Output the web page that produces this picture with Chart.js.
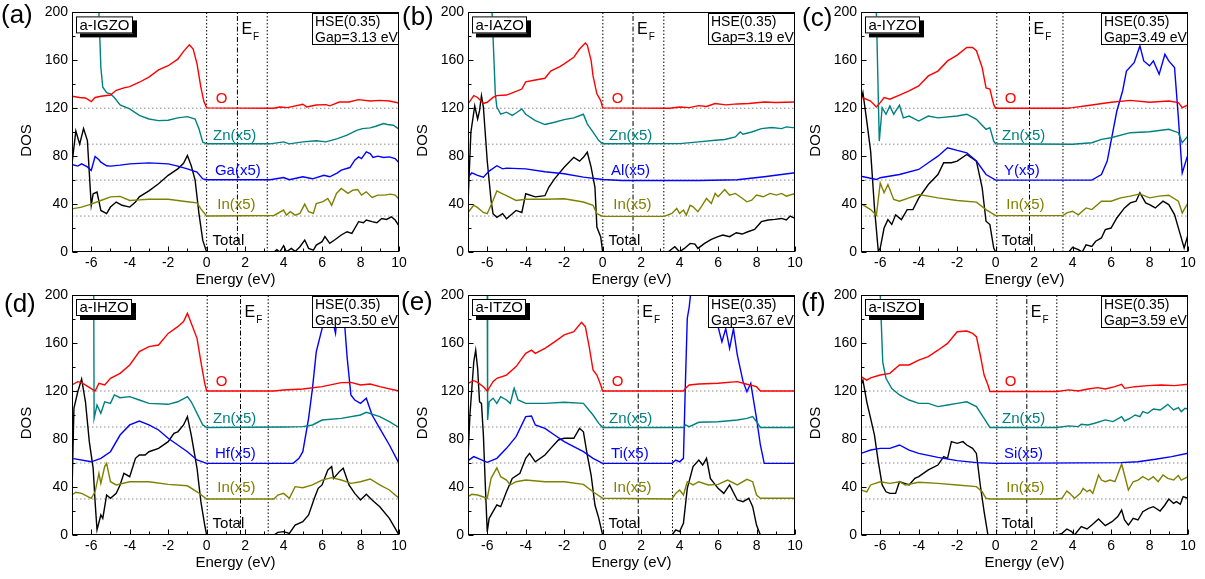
<!DOCTYPE html>
<html><head><meta charset="utf-8">
<script src="https://cdn.jsdelivr.net/npm/chart.js@4.4.1/dist/chart.umd.min.js"></script>
<style>
html,body{margin:0;padding:0;background:#fff;}
#wrap{position:relative;width:1205px;height:579px;overflow:hidden;background:#fff;}
canvas{position:absolute;left:0;top:0;}
</style></head><body><div id="wrap"></div>
<script>
// ---------------- DATA ----------------
const xTicks = [-6,-4,-2,0,2,4,6,8,10];
const yTicks = [0,40,80,120,160,200];
const baselineLevels = [30,60,90,120];
const panelTags = ['(a)','(b)','(c)','(d)','(e)','(f)'];
const sampleNames = ['a-IGZO','a-IAZO','a-IYZO','a-IHZO','a-ITZO','a-ISZO'];
const hseText = 'HSE(0.35)';
const gapTexts = ['Gap=3.13 eV','Gap=3.19 eV','Gap=3.49 eV','Gap=3.50 eV','Gap=3.67 eV','Gap=3.59 eV'];
const dopantLabels = ['Ga(x5)','Al(x5)','Y(x5)','Hf(x5)','Ti(x5)','Si(x5)'];
const vbmLines = [0,0.01,0.06,0.03,0.03,0.06];
const efLines = [1.6,1.58,1.76,1.76,1.85,1.62];
const cbmLines = [3.15,3.18,3.5,3.2,3.63,3.18];
const labelE = [0.47,0.33,0.43,0.55,0.31];
const labelDOS = [128,97,67.5,39,9.7];

// panel (a) a-IGZO
const a_O = [[-7,130],[-6.6,129],[-6.3,128.6],[-6,125.5],[-5.8,129],[-5.5,130],[-5,131],[-4.7,135],[-4.3,137],[-4,138],[-3.5,141.7],[-3,146],[-2.5,152],[-2,155.5],[-1.5,161],[-1.2,167.5],[-0.9,173],[-0.7,169.4],[-0.5,157],[-0.3,137.5],[-0.15,126],[0,120.3],[3.5,120],[3.8,121],[4.2,120.5],[5,123.3],[5.2,121.1],[5.7,122.7],[6.2,123],[6.4,122],[6.9,125.2],[7.4,125.2],[7.9,127.2],[8.5,126.1],[9,126.6],[9.5,126],[10,124.4]];
const a_Zn = [[-7,260],[-5.65,260],[-5.6,200],[-5.5,154],[-5.4,137.5],[-5.2,133],[-5,132],[-4.8,129],[-4.5,122.8],[-4,119.4],[-3.5,114],[-3,111],[-2.5,109.7],[-2,110],[-1.5,112],[-1,113],[-0.6,111],[-0.4,102.8],[-0.2,91.7],[0,90.3],[3.3,90.3],[4,91.9],[4.3,90.3],[5,91.9],[5.7,92.8],[6.2,91.9],[6.8,94.7],[7.3,97.5],[7.8,101.6],[8.1,103],[8.5,103.6],[8.8,105],[9.2,107.2],[9.4,106.4],[9.7,105.8],[10,102.5]];
const a_Ga = [[-7,73],[-6.7,71.7],[-6.5,73.6],[-6.2,71],[-6,68],[-5.8,79.7],[-5.6,77],[-5.5,75],[-5.2,72],[-5,71.7],[-4.5,72.5],[-4,73.6],[-3.5,74],[-3,74.4],[-2.5,74],[-2,73.6],[-1.5,71.7],[-1,69.4],[-0.5,66.7],[-0.2,61],[0,60.3],[3.3,60.3],[4,62.2],[4.3,60.3],[5,62.8],[5.5,61.1],[6.1,64.1],[6.4,62.8],[6.8,66.1],[7,68.3],[7.45,70.5],[7.7,76.6],[7.9,79.4],[8.05,78],[8.3,83.6],[8.5,82.2],[8.65,78.9],[8.9,80],[9.2,78.9],[9.5,79.4],[9.8,78],[10,74.5]];
const a_In = [[-7,36],[-6.5,37.5],[-6,40],[-5.5,43],[-5,46],[-4.5,46.4],[-4,43],[-3.5,43.5],[-3,44],[-2,44],[-1,42],[-0.5,41],[-0.3,36],[0,30],[3.5,30.5],[4,35],[4.15,30.8],[4.35,33.6],[4.6,30.8],[4.85,32.2],[5.1,40],[5.3,33.6],[5.55,32.2],[5.7,40.5],[6.05,42],[6.3,44.7],[6.5,39],[6.75,48.9],[7,53],[7.35,48.9],[7.6,51.6],[7.85,52.2],[8.05,47.5],[8.3,50.2],[8.6,45.5],[8.9,47.5],[9.25,47.5],[9.55,48.3],[9.8,47.5],[10,44]];
const a_Total = [[-7,73.6],[-6.8,101],[-6.6,90],[-6.4,103],[-6.2,93],[-6,39],[-5.9,48.6],[-5.7,50],[-5.5,34.7],[-5.2,32],[-5,37.5],[-4.7,41.7],[-4.4,39],[-4,37.5],[-3.7,41.7],[-3.5,46],[-3,51],[-2.5,57],[-2,64],[-1.5,69.4],[-1.2,74],[-1,80.6],[-0.8,72],[-0.6,60],[-0.4,32],[-0.2,9.7],[0,0],[3.5,0],[3.65,2],[3.8,0],[4,5.3],[4.15,0.2],[4.4,3],[4.6,0.5],[4.85,4.4],[5.1,10],[5.3,3],[5.55,1.6],[5.7,5.8],[6,8.6],[6.15,12.8],[6.4,7.2],[6.65,10],[7,14.2],[7.3,16.9],[7.55,15.5],[7.9,25.3],[8.15,24.4],[8.3,26.7],[8.6,25.3],[8.85,24.4],[9.1,28],[9.35,27.2],[9.6,29.4],[9.8,26.7],[10,21.9]];

// panel (b) a-IAZO
const b_O = [[-7,123.6],[-6.7,130.5],[-6.5,129],[-6.2,124],[-6,125],[-5.7,129],[-5.5,130.5],[-5,131],[-4.5,134],[-4.2,136],[-4,142],[-3.5,143.6],[-3,145],[-2.7,151],[-2.2,155],[-2,157],[-1.5,162.5],[-1.2,169.4],[-0.9,174.4],[-0.8,172.8],[-0.6,160],[-0.5,147],[-0.3,132],[-0.1,126.4],[0,120.3],[3.5,120],[4,121],[4.5,120.5],[5,122.2],[5.4,121.5],[5.85,123.9],[6.4,122.8],[7,123.6],[7.6,123.9],[8.4,125.2],[9,124.8],[10,125.2]];
const b_Zn = [[-7,260],[-5.8,260],[-5.75,200],[-5.58,132],[-5.5,121],[-5.3,115],[-5,116.7],[-4.7,114],[-4.5,116],[-4.2,119.4],[-4,115],[-3.5,109.7],[-3,106.4],[-2.5,108.3],[-2,110.5],[-1.5,112],[-1,115],[-0.8,107],[-0.5,100],[-0.2,93],[0,90.3],[4,90.5],[5,91.9],[5.85,93.3],[6.35,93.9],[6.9,96.1],[7.15,100.2],[7.3,98.3],[7.75,100.2],[8.25,103],[8.8,103.9],[9.3,103],[9.55,104.4],[10,103.6]];
const b_Al = [[-7,62.5],[-6.8,66],[-6.5,64],[-6.2,62.5],[-5.9,67.5],[-5.5,72],[-5.2,69.4],[-5,70],[-4,69.4],[-3,67],[-2,65.3],[-1,62.5],[0,60.5],[1,59.7],[5,59.7],[7,60.3],[8.4,62.8],[10,66.1]];
const b_In = [[-7,33],[-6.7,39],[-6.5,37],[-6.2,33],[-6,32],[-5.7,43],[-5.5,51],[-5.2,48.6],[-5,47],[-4.5,43],[-4,44],[-3,44],[-2,44.4],[-1,41.7],[-0.5,39],[-0.3,32],[0,29.7],[3.2,29.7],[3.6,32.2],[3.85,36.4],[4,32.2],[4.2,35],[4.35,30.8],[4.55,39],[4.7,37.7],[4.95,33.6],[5.15,38.3],[5.4,44.7],[5.65,40.5],[5.85,48.9],[6,46.1],[6.35,52.2],[6.6,47.5],[6.9,48.9],[7.15,46.1],[7.5,41.9],[7.75,43.3],[8,47.5],[8.35,46.1],[8.7,48.9],[9.05,47.5],[9.3,48.9],[9.55,46.6],[10,48.9]];
const b_Total = [[-7,40],[-6.85,100],[-6.65,122],[-6.5,111],[-6.4,118],[-6.3,130.5],[-6.2,121],[-6,76],[-5.8,43],[-5.7,32],[-5.5,29],[-5.2,32],[-5,27.8],[-4.5,34.7],[-4.2,33],[-4,48.6],[-3.5,46],[-3,47],[-2.8,54],[-2.5,61],[-2,70.8],[-1.5,79],[-1.2,75.8],[-1,79],[-0.8,83.3],[-0.6,70.8],[-0.4,54],[-0.3,20.8],[-0.1,12.5],[0,0],[3.4,0],[3.75,4.4],[4,0.2],[4.25,3],[4.55,7.2],[4.8,6.6],[4.95,3],[5.3,7.2],[5.65,10.5],[6,12.8],[6.25,14.2],[6.6,12.8],[6.95,16.1],[7.25,15],[7.55,16.9],[7.9,18.9],[8.25,25.3],[8.6,26.7],[8.95,27.2],[9.3,28],[9.55,26.7],[9.75,30],[10,28]];

// panel (c) a-IYZO
const c_O = [[-7,129.4],[-6.5,126],[-6.2,121],[-6,124.7],[-5.8,129],[-5.5,127.5],[-5,131],[-4.5,134.4],[-4,138.6],[-3.5,147],[-3,151],[-2.5,159.5],[-2,164.3],[-1.5,170.7],[-1.2,170.7],[-1,168],[-0.7,154],[-0.5,137],[-0.3,136],[-0.1,123],[0,120],[3.7,120],[4,120.5],[5,122.7],[6,125],[7,126.6],[8,125],[9,126],[9.5,124.7],[9.7,120.5],[10,122.7]];
const c_Zn = [[-7,260],[-6.25,260],[-6.2,200],[-6.05,92.6],[-5.9,120.5],[-5.7,115],[-5.5,121.9],[-5.3,115],[-5,122.5],[-4.8,112],[-4.5,113.5],[-4,109.3],[-3.5,113.5],[-3,112],[-2,113.5],[-1.5,115],[-1,110.7],[-0.5,102.4],[-0.3,103.8],[-0.1,92.6],[0,90.4],[4,90],[5,91.2],[5.5,94],[6,95.4],[7,99.6],[8,100.4],[9,102.4],[9.5,99.6],[9.7,91.2],[10,96.8]];
const c_Y = [[-7,63.3],[-6.2,60.5],[-6,62],[-5,64.7],[-4,68.9],[-3.5,74.5],[-3,80],[-2.5,87],[-2,84.8],[-1.5,82.8],[-1,75.9],[-0.5,64.7],[0,60],[5,60],[5.5,64.7],[5.8,75.9],[6,92.6],[6.3,117.7],[6.6,134.4],[6.8,151],[7.2,158],[7.5,172],[7.7,159.5],[8,155.4],[8.2,159.5],[8.5,148.4],[8.8,165],[9,159.5],[9.3,154],[9.5,112],[9.7,66],[10,81.4]];
const c_In = [[-7,40.4],[-6.5,35.4],[-6.2,30.7],[-6,57.7],[-5.8,49.4],[-5.6,56.3],[-5.3,43.8],[-5,42.4],[-4.5,45.2],[-4,48],[-3.5,46.6],[-3,45.2],[-2,43],[-1,41.6],[-0.5,35.4],[0,30.4],[3.5,30.4],[3.7,32.6],[4,34],[4.3,31],[4.7,36.8],[5,35.4],[5.5,42.4],[6,42.4],[6.5,45.2],[7,46.6],[7.5,48.5],[8,45.2],[8.5,46.6],[9,47.4],[9.5,42.4],[9.7,32.6],[10,41]];
const c_Total = [[-7,126],[-6.9,133],[-6.7,109.3],[-6.5,84.2],[-6.3,36.8],[-6.1,0.6],[-6,3.3],[-5.8,20],[-5.6,27],[-5.4,23],[-5.2,31],[-4.9,27],[-4.6,35.4],[-4.3,35.4],[-4,45],[-3.5,56.3],[-3,64.7],[-2.7,74.5],[-2.3,74.5],[-2,75.9],[-1.5,81.4],[-1,75.9],[-0.7,53.6],[-0.5,25.7],[-0.3,22.9],[-0.1,3.3],[0,0],[3.8,0],[4,3.9],[4.3,2],[4.5,0],[4.7,6],[5,4.7],[5.2,9],[5.5,11.7],[5.7,18.7],[6,20],[6.3,28.4],[6.7,36.8],[7,41],[7.3,42.4],[7.5,49.4],[7.8,41],[8,39.6],[8.3,36.8],[8.7,42.4],[9,39.6],[9.3,31.2],[9.6,14.5],[9.8,3.3],[10,14.5]];

// panel (d) a-IHZO
const d_O = [[-7,125],[-6.7,127.8],[-6.5,127],[-6,122],[-5.8,120],[-5.6,126.4],[-5.3,125],[-5,130.6],[-4.5,134.7],[-4,141.7],[-3.5,152.8],[-3,157],[-2.5,158.3],[-2,168],[-1.5,173.6],[-1.2,177.8],[-1,184.7],[-0.8,176.4],[-0.5,163.9],[-0.3,144.4],[-0.1,126.4],[0,120],[3.5,120],[4,120.8],[5,121.7],[6,123.6],[7,127],[7.5,127.2],[8,125],[8.5,125.8],[9,123.6],[10,120]];
const d_Zn = [[-7,260],[-5.9,260],[-5.87,200],[-5.85,97.2],[-5.7,108.3],[-5.5,101.4],[-5.3,111],[-5,109.7],[-4.8,116.7],[-4.5,114.4],[-4,115.3],[-3.5,112.5],[-3,109.7],[-2,108.9],[-1.5,111],[-1,115.3],[-0.8,111],[-0.5,101.4],[-0.2,91.7],[0,89.6],[4,90],[5,90.3],[5.5,91.7],[6,95.8],[7,97.2],[8,100],[8.3,102.2],[9,98.6],[9.5,94.4],[10,89.6]];
const d_Hf = [[-7,63.9],[-6,61],[-5.5,63.9],[-5,69.4],[-4.5,83.3],[-4,91.7],[-3.5,95],[-3,91.7],[-2.5,87.5],[-2,80.6],[-1.5,75],[-1,69.4],[-0.5,62.5],[0,59.7],[4.5,59.7],[4.8,63.9],[5,69.4],[5.3,97.2],[5.5,122],[5.7,152.8],[6,172],[6.2,195],[6.4,215],[6.6,175],[6.7,168],[6.8,185],[7,215],[7.2,170],[7.3,148.6],[7.5,116.7],[7.7,112.5],[8,109.7],[8.3,113.9],[8.6,100],[9,88.9],[9.5,75],[10,59.7]];
const d_In = [[-7,33.3],[-6.8,35.6],[-6.5,34.7],[-6,30.6],[-5.8,36],[-5.6,51.4],[-5.5,43],[-5.3,57],[-5.2,59.7],[-5,44.4],[-4.7,41.7],[-4,44.4],[-3,44.4],[-2,42.2],[-1,41],[-0.5,36],[0,30],[3.5,30],[3.7,33.3],[4,34.7],[4.3,30.6],[4.6,40.3],[5,39.4],[5.5,41.7],[6,45.8],[6.5,47.8],[7,45.8],[7.5,43],[8,44.4],[8.5,46.7],[9,41.7],[9.5,37.5],[10,30.6]];
const d_Total = [[-7,36],[-6.9,105.6],[-6.7,119.4],[-6.5,130],[-6.3,111],[-6.1,77.8],[-5.9,55.6],[-5.8,27.8],[-5.7,4.2],[-5.5,16.7],[-5.4,13.9],[-5.2,33.3],[-5,30.6],[-4.7,34.7],[-4.5,41.7],[-4.3,51.4],[-4,48.6],[-3.7,63.9],[-3.5,66.7],[-3.2,66.7],[-3,69.4],[-2.5,72.2],[-2,77.8],[-1.7,84.7],[-1.5,86],[-1.2,91.7],[-1,98.6],[-0.8,83.3],[-0.5,55.6],[-0.3,27.8],[-0.1,8.3],[0,0],[3.5,0],[3.7,2.2],[4,2.8],[4.3,1.4],[4.6,8.3],[5,11.1],[5.3,16.7],[5.6,30.6],[5.8,38.9],[6,41.7],[6.3,54.2],[6.5,57],[6.6,47.2],[6.9,52.8],[7.1,55.6],[7.4,41.7],[7.7,34.7],[8,29.2],[8.3,33.9],[8.6,29.2],[9,23.6],[9.5,13.9],[10,0]];

// panel (e) a-ITZO
const e_O = [[-7,126.4],[-6.7,128.6],[-6.5,127.2],[-6.2,123.6],[-6,120],[-5.7,127.8],[-5.5,130.6],[-5,133.3],[-4.5,140.3],[-4,151.4],[-3.7,154],[-3.5,151.4],[-3,155.6],[-2.5,161],[-2,166.7],[-1.5,169.4],[-1.1,177.2],[-0.9,173.6],[-0.7,157],[-0.5,137.5],[-0.3,133.3],[-0.1,125],[0,120],[4.2,120],[4.3,122.2],[4.5,125],[5,125.8],[6,126.4],[7,127.8],[7.5,125.6],[8,123.6],[8.2,120],[10,120]];
const e_Zn = [[-7,260],[-6.05,260],[-6,200],[-5.98,95.8],[-5.9,111],[-5.7,114],[-5.5,109.7],[-5.3,115.3],[-5,112.5],[-4.8,109.7],[-4.6,122.2],[-4.4,112.5],[-4,109.7],[-3,109.7],[-2,110.6],[-1,109.7],[-0.5,100],[-0.2,93],[0,89.6],[4.2,89.6],[4.3,91.7],[4.5,90.3],[5,93.9],[6,94.4],[7,95.8],[7.5,97.2],[7.8,98.6],[8,94.4],[8.2,89.6],[10,89.6]];
const e_Ti = [[-7,62],[-6.7,65.3],[-6,60.6],[-5.5,63.9],[-5,72.2],[-4.5,82],[-4,98.6],[-3.7,99.2],[-3.5,91.7],[-3,88.9],[-2.5,83.3],[-2,77.8],[-1.5,73.6],[-1,69.4],[-0.5,63.9],[0,59.7],[3.6,59.7],[3.8,62.5],[4,61],[4.2,63.9],[4.3,125],[4.4,180.6],[4.5,190],[4.6,205],[5,240],[5.5,240],[5.8,205],[5.9,175],[6,173.6],[6.2,161],[6.4,172],[6.6,155.6],[6.8,172],[7,150],[7.3,127.8],[7.5,119.4],[7.7,126.4],[8,97.2],[8.2,75],[8.4,59.7],[10,59.7]];
const e_In = [[-7,32],[-6.8,33.9],[-6.5,33.3],[-6,30.6],[-5.8,47.2],[-5.5,56],[-5.3,48.6],[-5,45.8],[-4.8,41.7],[-4.5,44.4],[-4,45.8],[-3,44.4],[-2,44.4],[-1,42.2],[-0.5,36],[0,30.6],[3.6,30],[3.8,34.7],[4,37.5],[4.2,33.3],[4.4,44.4],[4.7,41.7],[5,44.4],[5.5,41.7],[6,42.2],[6.5,45.8],[7,41.7],[7.5,46.4],[7.8,44.4],[8,33.3],[8.2,30.6],[10,30.6]];
const e_Total = [[-7,63.9],[-6.9,100],[-6.7,144.4],[-6.6,154],[-6.5,138.9],[-6.4,111],[-6.3,109.7],[-6.2,83.3],[-6.1,41.7],[-6,2.8],[-5.9,13.9],[-5.7,19.4],[-5.5,25],[-5.3,23.6],[-5,36],[-4.7,47.2],[-4.3,51.4],[-4,63.9],[-3.8,68],[-3.5,61],[-3,66.7],[-2.7,72.2],[-2.3,79.2],[-2,80.6],[-1.5,80.6],[-1.2,88.9],[-1,86],[-0.8,66.7],[-0.6,50],[-0.4,25],[-0.2,13.9],[0,0],[3.6,0],[3.8,4.2],[4,2.8],[4.2,9.7],[4.4,38.9],[4.7,57],[5,62.5],[5.2,58.3],[5.4,63.9],[5.6,47.2],[6,38.9],[6.3,34.7],[6.6,41.7],[7,29.2],[7.3,27.8],[7.6,30.6],[7.8,23.6],[8,8.3],[8.2,0],[10,0]];

// panel (f) a-ISZO
const f_O = [[-7,132],[-6.7,129],[-6.5,131],[-6,133.3],[-5.5,134.7],[-5,141.7],[-4.5,141.7],[-4,145.8],[-3.5,148.6],[-3,154],[-2.5,159.7],[-2,169.4],[-1.5,170],[-1.2,168],[-1,165.3],[-0.8,150],[-0.6,133.3],[-0.4,125],[-0.3,119.6],[3.2,119.6],[3.8,120.9],[4.3,120],[4.8,121.7],[5.3,122.8],[5.7,121.7],[6.2,123.6],[6.55,125.6],[6.7,122.2],[7.25,123.6],[7.9,124.5],[8.6,125],[9.3,124.5],[10,125.6]];
const f_Zn = [[-7,260],[-6.05,260],[-6,200],[-5.87,144],[-5.7,130.6],[-5.4,122],[-5,116.7],[-4.5,112.5],[-4,109.7],[-3.5,109.7],[-3,107],[-2.5,108.3],[-2,109.7],[-1.5,111],[-1,107],[-0.6,97.2],[-0.3,89.6],[3.2,89.6],[3.8,90.9],[4.3,90.3],[4.45,92.3],[4.8,91.7],[5.15,93.1],[5.7,95.9],[6.1,94.5],[6.55,98.6],[6.7,95],[7,97.3],[7.25,100],[7.5,98.6],[7.65,102.8],[7.9,101.4],[8.2,105],[8.55,104.2],[8.8,107],[8.95,108.9],[9.25,104.2],[9.5,106.1],[9.65,102.8],[9.85,105.6],[10,105]];
const f_Si = [[-7,68],[-6.5,70.8],[-6,72.2],[-5.5,72.2],[-5,75],[-4.5,70.8],[-4,68],[-3,64.7],[-2,62],[-1,60.3],[0,59.7],[6.5,60.3],[7.4,61.1],[8.3,63.1],[9.15,65.3],[10,68.1]];
const f_In = [[-7,37.5],[-6.7,36],[-6.5,41.7],[-6,44.4],[-5.5,43],[-5,44.4],[-4.7,41.7],[-4,43.9],[-3,43],[-2,41.7],[-1,40.3],[-0.7,36],[-0.5,30.6],[-0.3,30],[3.2,30],[3.45,30.6],[3.7,36.7],[3.85,34.7],[4.1,30.6],[4.4,34.7],[4.55,38.9],[4.75,36.1],[4.9,37.5],[5.05,34.7],[5.35,50],[5.5,45.8],[5.7,44.4],[5.95,45.8],[6.2,44.4],[6.4,52.8],[6.55,59.2],[6.7,50],[6.9,37.5],[7.15,44.4],[7.4,45.8],[7.65,48.6],[7.95,45.8],[8.2,48.6],[8.45,44.4],[8.7,50],[8.95,47.2],[9.25,45.8],[9.5,49.5],[9.65,45.8],[10,48.6]];
const f_Total = [[-7,125],[-6.9,129],[-6.7,111],[-6.5,97.2],[-6.3,83.3],[-6.1,61],[-5.9,41.7],[-5.7,36],[-5.5,34.7],[-5.2,34.7],[-5,44.4],[-4.5,41.7],[-4.2,47.2],[-4,48.6],[-3.5,54.2],[-3,58.3],[-2.7,65.3],[-2.5,63.9],[-2.3,77.8],[-2,76.4],[-1.7,77.8],[-1.5,75],[-1.2,72.2],[-1,68],[-0.8,41.7],[-0.6,19.4],[-0.4,0],[3.2,0],[3.45,1.4],[3.7,5],[3.95,2.8],[4.1,0],[4.45,7],[4.75,5],[5,8.3],[5.35,13.3],[5.7,7.8],[6.05,11.1],[6.35,15.3],[6.55,20.8],[6.7,12.5],[6.9,8.3],[7.15,13.9],[7.4,12.5],[7.65,19.4],[7.95,22.2],[8.2,23.6],[8.55,20],[8.8,25],[9,30],[9.25,26.4],[9.4,27.8],[9.6,25.6],[9.75,32],[10,30.6]];

const panelCurves = [
  [a_O,a_Zn,a_Ga,a_In,a_Total],
  [b_O,b_Zn,b_Al,b_In,b_Total],
  [c_O,c_Zn,c_Y,c_In,c_Total],
  [d_O,d_Zn,d_Hf,d_In,d_Total],
  [e_O,e_Zn,e_Ti,e_In,e_Total],
  [f_O,f_Zn,f_Si,f_In,f_Total]
];

// ---------------- LAYOUT / STYLE ----------------
const FONT = "'Liberation Sans', Arial, Helvetica, sans-serif";
const plotOrigins = [[72,12],[468,12],[861,12],[72,295],[468,295],[861,295]];
const PW = 327, PH = 240, YAXW = 60, XAXH = 40;
const tagPos = [[1,16],[402,18],[802,19],[4,305],[401,303],[801,304]];
const seriesColors = ['#ff0000','#008080','#0000ff','#808000','#000000'];

function decoPlugin(i){
  return { id:'deco'+i, afterDraw(chart){
    const ctx = chart.ctx, a = chart.chartArea, xs = chart.scales.x, ys = chart.scales.y;
    ctx.save();
    ctx.strokeStyle = '#000'; ctx.lineWidth = 1;
    const l = Math.round(a.left)+0.5, t = Math.round(a.top)+0.5, r = Math.round(a.right)-0.5, b = Math.round(a.bottom)-0.5;
    ctx.strokeRect(l, t, r-l, b-t);
    ctx.beginPath();
    for (let e = -7; e <= 10; e++){
      const px = Math.round(xs.getPixelForValue(e))+0.5;
      const len = (e % 2 === 0) ? 5 : 3;
      ctx.moveTo(px, b); ctx.lineTo(px, b-len);
    }
    for (let v = 0; v <= 200; v += 20){
      const py = Math.round(ys.getPixelForValue(v))+0.5;
      const len = (v % 40 === 0) ? 5 : 3;
      ctx.moveTo(l, py); ctx.lineTo(l+len, py);
    }
    ctx.stroke();
    ctx.fillStyle = '#000';
    ctx.font = '15px ' + FONT;
    ctx.textAlign = 'center'; ctx.textBaseline = 'middle';
    ctx.fillText('Energy (eV)', (a.left+a.right)/2, a.bottom+28);
    ctx.save();
    ctx.translate(a.left-45, a.top+128);
    ctx.rotate(-Math.PI/2);
    ctx.fillText('DOS', 0, 0);
    ctx.restore();
    ctx.font = '26px ' + FONT;
    ctx.textAlign = 'left';
    ctx.fillText(panelTags[i], tagPos[i][0], tagPos[i][1]);
    ctx.font = '15px ' + FONT;
    const tw = ctx.measureText(sampleNames[i]).width;
    const bx = a.left+4, by = a.top+4, bw = Math.round(tw+7), bh = 17;
    ctx.fillStyle = '#000';
    ctx.fillRect(bx+4, by+4, bw, bh);
    ctx.fillStyle = '#fff';
    ctx.fillRect(bx, by, bw, bh);
    ctx.strokeStyle = '#000';
    ctx.strokeRect(bx+0.5, by+0.5, bw-1, bh-1);
    ctx.fillStyle = '#000';
    ctx.textBaseline = 'middle';
    ctx.fillText(sampleNames[i], bx+3.5, by+bh/2+0.5);
    const hw = 87, hh = 32, hx = Math.round(a.right)-hw, hy = Math.round(a.top)+1;
    ctx.fillStyle = '#fff';
    ctx.fillRect(hx, hy, hw, hh);
    ctx.strokeRect(hx+0.5, hy+0.5, hw-1, hh-1);
    ctx.fillStyle = '#000';
    ctx.font = '14px ' + FONT;
    ctx.textBaseline = 'alphabetic';
    ctx.fillText(hseText, hx+3, hy+13);
    ctx.fillText(gapTexts[i], hx+3, hy+29);
    const ex = xs.getPixelForValue(efLines[i]) + 4;
    ctx.font = '16px ' + FONT;
    ctx.fillText('E', ex, a.top+22);
    const ew = ctx.measureText('E').width;
    ctx.font = '10px ' + FONT;
    ctx.fillText('F', ex+ew+1, a.top+28);
    const names = ['O','Zn(x5)',dopantLabels[i],'In(x5)','Total'];
    ctx.font = '15px ' + FONT;
    ctx.textBaseline = 'middle';
    names.forEach((n,k) => {
      ctx.fillStyle = seriesColors[k];
      ctx.fillText(n, xs.getPixelForValue(labelE[k]), ys.getPixelForValue(labelDOS[k]));
    });
    ctx.restore();
  }};
}

const wrap = document.getElementById('wrap');
panelCurves.forEach((curves, i) => {
  const cv = document.createElement('canvas');
  cv.width = 1205; cv.height = 579;
  cv.style.width = '1205px'; cv.style.height = '579px';
  wrap.appendChild(cv);
  const [L, T] = plotOrigins[i];
  const ds = [];
  curves.forEach((c, k) => ds.push({
    data: c.map(([x,y]) => ({x, y})), borderColor: seriesColors[k], borderWidth: 1.4,
    pointRadius: 0, tension: 0, fill: false, order: k
  }));
  baselineLevels.forEach(v => ds.push({
    data: [{x:-7,y:v},{x:10,y:v}], borderColor: '#8a8a8a', borderWidth: 1,
    borderDash: [1.5,2.5], pointRadius: 0, fill: false, order: 20
  }));
  [vbmLines[i], cbmLines[i]].forEach(v => ds.push({
    data: [{x:v,y:0},{x:v,y:200}], borderColor: '#000', borderWidth: 1,
    borderDash: [1.5,2], pointRadius: 0, fill: false, order: 15
  }));
  ds.push({
    data: [{x:efLines[i],y:0},{x:efLines[i],y:200}], borderColor: '#000', borderWidth: 1,
    borderDash: [5,2,1.5,2], pointRadius: 0, fill: false, order: 15
  });
  new Chart(cv, {
    type: 'line',
    data: { datasets: ds },
    options: {
      responsive: false, animation: false, devicePixelRatio: 1, events: [],
      layout: { padding: { left: L-YAXW, top: T, right: 1205-L-PW, bottom: 579-T-PH-XAXH } },
      plugins: { legend: { display: false }, tooltip: { enabled: false } },
      scales: {
        x: {
          type: 'linear', min: -7, max: 10,
          afterBuildTicks: s => { s.ticks = xTicks.map(v => ({ value: v })); },
          afterFit: s => { s.height = XAXH; },
          grid: { display: false, drawTicks: false }, border: { display: false },
          ticks: { font: { family: FONT, size: 14 }, color: '#000', padding: 3, maxRotation: 0, autoSkip: false }
        },
        y: {
          type: 'linear', min: 0, max: 200,
          afterBuildTicks: s => { s.ticks = yTicks.map(v => ({ value: v })); },
          afterFit: s => { s.width = YAXW; },
          grid: { display: false, drawTicks: false }, border: { display: false },
          ticks: { font: { family: FONT, size: 14 }, color: '#000', padding: 4, autoSkip: false }
        }
      }
    },
    plugins: [decoPlugin(i)]
  });
});
</script>
</body></html>
